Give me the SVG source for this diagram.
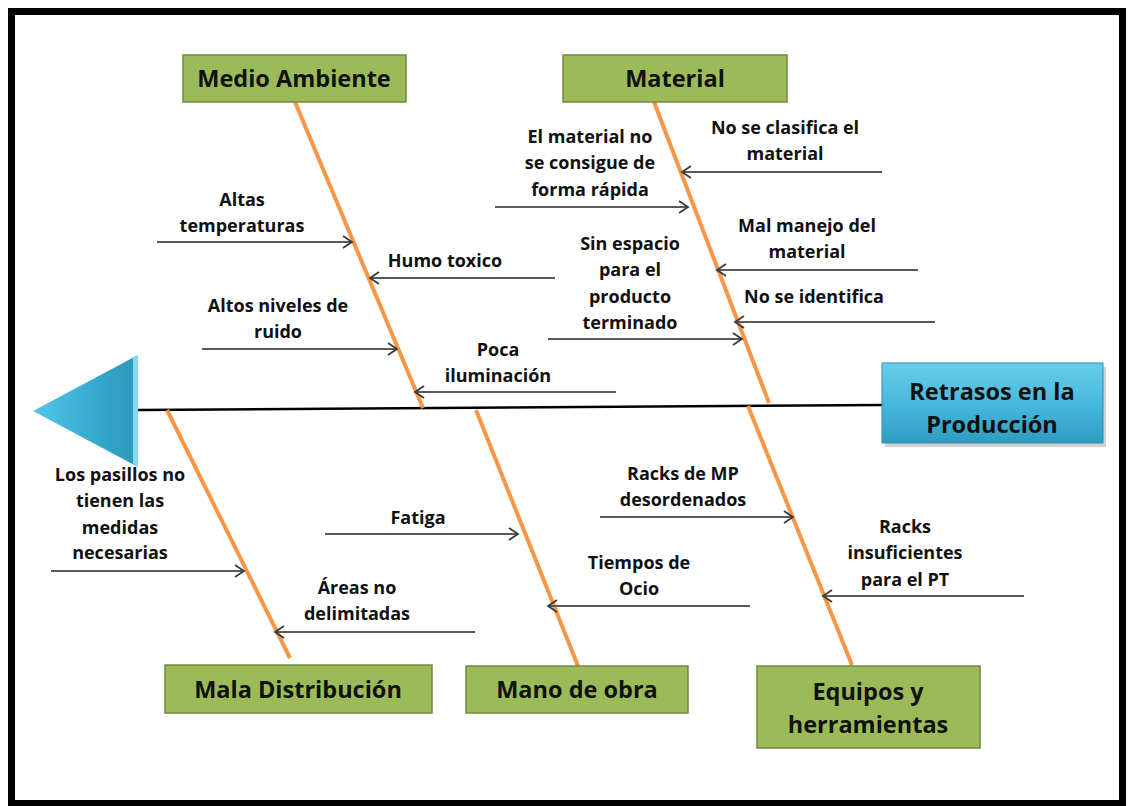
<svg xmlns="http://www.w3.org/2000/svg" width="1128" height="806" viewBox="0 0 1128 806">
<defs>
<style>
.cat{fill:#9BBB59;stroke:#71893F;stroke-width:1.5}
.ct{font-family:"Open Sans",Lato,sans-serif;font-weight:bold;font-size:23.5px;fill:#111;text-anchor:middle}
.t{font-family:"Open Sans",Lato,sans-serif;font-weight:bold;font-size:18px;fill:#111;text-anchor:middle}
.bone{stroke:#F79646;stroke-width:4;fill:none}
.arr{stroke:#5A5A5A;stroke-width:2;fill:none;marker-end:url(#ah)}
</style>
<marker id="ah" markerUnits="userSpaceOnUse" markerWidth="12" markerHeight="14" refX="10" refY="7" orient="auto">
<path d="M1,1 L10,7 L1,13" fill="none" stroke="#3A3A3A" stroke-width="1.8"/>
</marker>
<linearGradient id="tri" x1="0" y1="0" x2="1" y2="0">
<stop offset="0" stop-color="#55C8E8"/>
<stop offset="0.6" stop-color="#35A8CC"/>
<stop offset="1" stop-color="#2B98BB"/>
</linearGradient>
<linearGradient id="eff" x1="0" y1="0" x2="0" y2="1">
<stop offset="0" stop-color="#6ACDEA"/>
<stop offset="0.5" stop-color="#47B9DD"/>
<stop offset="1" stop-color="#2F9CC0"/>
</linearGradient>
</defs>
<rect x="0" y="0" width="1128" height="806" fill="#fff"/>
<rect x="11.5" y="11.5" width="1111" height="792" fill="none" stroke="#000" stroke-width="7"/>

<g id="connectors">
<line x1="138" y1="410" x2="882" y2="405" stroke="#000" stroke-width="2.5"/>
<line class="bone" x1="295" y1="102" x2="423" y2="408"/>
<line class="bone" x1="654" y1="102" x2="769" y2="403"/>
<line class="bone" x1="167" y1="410" x2="290" y2="658"/>
<line class="bone" x1="476" y1="410" x2="578" y2="666"/>
<line class="bone" x1="748" y1="406" x2="852" y2="665"/>
<line class="arr" x1="157" y1="242" x2="352" y2="242"/>
<line class="arr" x1="555" y1="278" x2="370" y2="278"/>
<line class="arr" x1="202" y1="349" x2="397" y2="349"/>
<line class="arr" x1="616" y1="392" x2="415" y2="392"/>
<line class="arr" x1="495" y1="207" x2="688" y2="207"/>
<line class="arr" x1="882" y1="172" x2="682" y2="172"/>
<line class="arr" x1="918" y1="270" x2="717" y2="270"/>
<line class="arr" x1="548" y1="339" x2="742" y2="339"/>
<line class="arr" x1="935" y1="322" x2="735" y2="322"/>
<line class="arr" x1="51" y1="571" x2="244" y2="571"/>
<line class="arr" x1="475" y1="632" x2="275" y2="632"/>
<line class="arr" x1="325" y1="534" x2="518" y2="534"/>
<line class="arr" x1="750" y1="606" x2="548" y2="606"/>
<line class="arr" x1="600" y1="517" x2="793" y2="517"/>
<line class="arr" x1="1024" y1="596" x2="823" y2="596"/>
</g>

<g id="head">
<polygon points="33,411 138,355 138,467" fill="url(#tri)"/>
<polygon points="133,358 138,355 138,467 133,464" fill="#86DBF3"/>
</g>

<g id="effect">
<rect x="885" y="367" width="221" height="80" fill="#000" opacity="0.18"/>
<rect x="882" y="363" width="221" height="80" fill="url(#eff)" stroke="#2B8FB2" stroke-width="1"/>
<text class="ct" x="992" y="400">Retrasos en la</text>
<text class="ct" x="992" y="433">Producción</text>
</g>

<g id="medio-ambiente">
<rect class="cat" x="183" y="55" width="223" height="47"/>
<text class="ct" x="294" y="87">Medio Ambiente</text>
</g>
<g id="material">
<rect class="cat" x="563" y="55" width="224" height="47"/>
<text class="ct" x="675" y="87">Material</text>
</g>
<g id="mala-distribucion">
<rect class="cat" x="165" y="665" width="267" height="48"/>
<text class="ct" x="298" y="698">Mala Distribución</text>
</g>
<g id="mano-de-obra">
<rect class="cat" x="466" y="666" width="222" height="47"/>
<text class="ct" x="577" y="698">Mano de obra</text>
</g>
<g id="equipos">
<rect class="cat" x="757" y="666" width="223" height="82"/>
<text class="ct" x="868" y="700">Equipos y</text>
<text class="ct" x="868" y="733">herramientas</text>
</g>

<g id="cause-altas-temperaturas">
<text class="t" x="242" y="206">Altas</text>
<text class="t" x="242" y="232">temperaturas</text>
</g>
<g id="cause-humo-toxico">
<text class="t" x="445" y="267">Humo toxico</text>
</g>
<g id="cause-altos-niveles">
<text class="t" x="278" y="312">Altos niveles de</text>
<text class="t" x="278" y="338">ruido</text>
</g>
<g id="cause-poca-iluminacion">
<text class="t" x="498" y="356">Poca</text>
<text class="t" x="498" y="382">iluminación</text>
</g>
<g id="cause-material-rapida">
<text class="t" x="590" y="143">El material no</text>
<text class="t" x="590" y="169">se consigue de</text>
<text class="t" x="590" y="196">forma rápida</text>
</g>
<g id="cause-clasifica">
<text class="t" x="785" y="134">No se clasifica el</text>
<text class="t" x="785" y="160">material</text>
</g>
<g id="cause-manejo">
<text class="t" x="807" y="232">Mal manejo del</text>
<text class="t" x="807" y="258">material</text>
</g>
<g id="cause-sin-espacio">
<text class="t" x="630" y="250">Sin espacio</text>
<text class="t" x="630" y="276">para el</text>
<text class="t" x="630" y="303">producto</text>
<text class="t" x="630" y="329">terminado</text>
</g>
<g id="cause-identifica">
<text class="t" x="814" y="303">No se identifica</text>
</g>
<g id="cause-pasillos">
<text class="t" x="120" y="481">Los pasillos no</text>
<text class="t" x="120" y="507">tienen las</text>
<text class="t" x="120" y="534">medidas</text>
<text class="t" x="120" y="559">necesarias</text>
</g>
<g id="cause-areas">
<text class="t" x="357" y="594">Áreas no</text>
<text class="t" x="357" y="620">delimitadas</text>
</g>
<g id="cause-fatiga">
<text class="t" x="418" y="524">Fatiga</text>
</g>
<g id="cause-ocio">
<text class="t" x="639" y="569">Tiempos de</text>
<text class="t" x="639" y="595">Ocio</text>
</g>
<g id="cause-racks-mp">
<text class="t" x="683" y="480">Racks de MP</text>
<text class="t" x="683" y="506">desordenados</text>
</g>
<g id="cause-racks-pt">
<text class="t" x="905" y="533">Racks</text>
<text class="t" x="905" y="559">insuficientes</text>
<text class="t" x="905" y="586">para el PT</text>
</g>
</svg>
